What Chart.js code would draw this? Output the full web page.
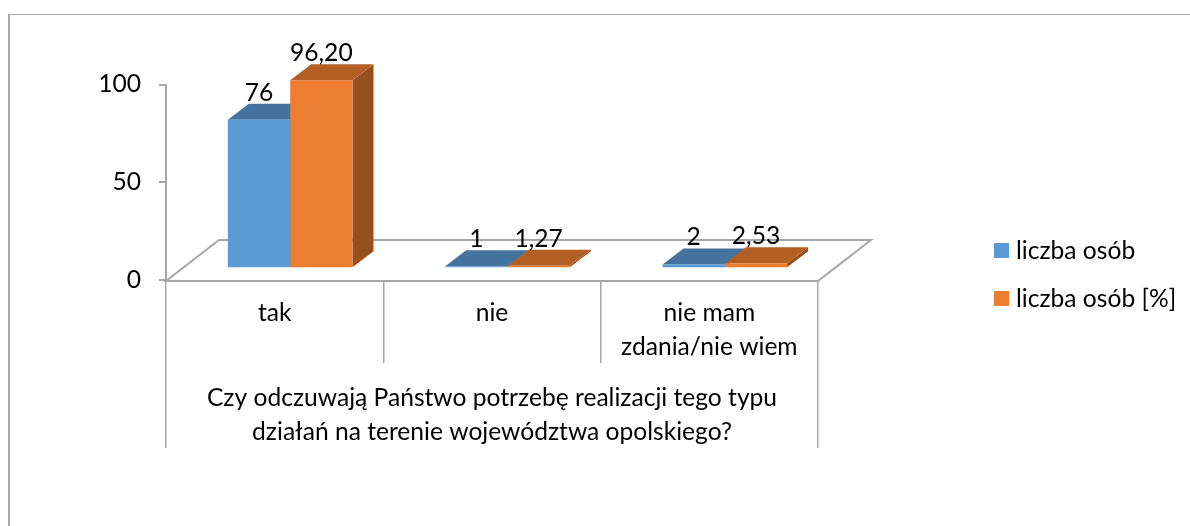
<!DOCTYPE html>
<html>
<head>
<meta charset="utf-8">
<style>
html, body { margin: 0; padding: 0; background: #fff; }
canvas { display: block; }
</style>
<script src="https://cdn.jsdelivr.net/npm/chart.js@4/dist/chart.umd.js"></script>
</head>
<body>
<canvas id="chart" width="1190" height="526"></canvas>
<script>
const categories = ['tak', 'nie', ['nie mam', 'zdania/nie wiem']]
const groupTitle = ['Czy odczuwają Państwo potrzebę realizacji tego typu', 'działań na terenie województwa opolskiego?']
const countValues = [76, 1, 2]
const percentValues = [96.20, 1.27, 2.53]
const countLabels = ['76', '1', '2']
const percentLabels = ['96,20', '1,27', '2,53']
const yTicks = [0, 50, 100]

const FONT = 'Lato'
const FONT_SIZE = 24.6
const AXIS = '#a6a6a6'

// perspective offsets of the fake 3D view
const depth = { x: 21, y: -16 }
const floor = { x: 53, y: -41 }
const shift = { x: 15.5, y: -11.7 }
const faces = [
    { top: '#44739f', side: '#3a6489' },
    { top: '#b35e24', side: '#95501e' }
]
const valueLabels = [countLabels, percentLabels]

function poly(ctx, pts, fill) {
    ctx.beginPath()
    pts.forEach((p, i) => i ? ctx.lineTo(p[0], p[1]) : ctx.moveTo(p[0], p[1]))
    ctx.closePath()
    ctx.fillStyle = fill
    ctx.fill()
}

const view3d = {
    id: 'view3d',
    beforeDatasetsDraw(chart) {
        const ctx = chart.ctx
        const x = chart.scales.x
        const y0 = chart.scales.y.getPixelForValue(0) + 1
        ctx.save()
        ctx.strokeStyle = AXIS
        ctx.lineWidth = 2
        ctx.beginPath()
        ctx.moveTo(x.left, y0)
        ctx.lineTo(x.left + floor.x, y0 + floor.y)
        ctx.lineTo(x.right + floor.x, y0 + floor.y)
        ctx.lineTo(x.right, y0)
        ctx.closePath()
        ctx.stroke()

        // side and top faces go first so the library's front faces sit on them
        ctx.translate(shift.x, shift.y)
        chart.data.datasets.forEach((ds, i) => {
            const f = faces[i]
            chart.getDatasetMeta(i).data.forEach(bar => {
                const l = bar.x - bar.width / 2
                const r = bar.x + bar.width / 2
                poly(ctx, [[r, bar.y], [r + depth.x, bar.y + depth.y], [r + depth.x, bar.base + depth.y], [r, bar.base]], f.side)
                poly(ctx, [[l, bar.y], [l + depth.x, bar.y + depth.y], [r + depth.x, bar.y + depth.y], [r, bar.y]], f.top)
            })
        })
        ctx.restore()
    },
    beforeDatasetDraw(chart) {
        chart.ctx.save()
        chart.ctx.translate(shift.x, shift.y)
    },
    afterDatasetDraw(chart) {
        chart.ctx.restore()
    },
    afterDatasetsDraw(chart) {
        const ctx = chart.ctx
        ctx.save()
        ctx.font = FONT_SIZE + 'px ' + FONT
        ctx.fillStyle = '#000'
        ctx.textAlign = 'center'
        ctx.textBaseline = 'middle'
        chart.data.datasets.forEach((ds, i) => {
            chart.getDatasetMeta(i).data.forEach((bar, j) => {
                ctx.fillText(valueLabels[i][j], bar.x + shift.x, bar.y + shift.y - 27)
            })
        })
        ctx.restore()
    },
    afterDraw(chart) {
        const ctx = chart.ctx
        ctx.save()

        // legend: the built-in one can't get the swatch-text gap this tight
        ctx.font = FONT_SIZE + 'px ' + FONT
        ctx.textAlign = 'left'
        ctx.textBaseline = 'middle'
        chart.data.datasets.forEach((ds, i) => {
            const y = 250.5 + i * 48
            ctx.fillStyle = ds.backgroundColor
            ctx.fillRect(994, y - 7.5, 15, 15)
            ctx.fillStyle = '#000'
            ctx.fillText(ds.label, 1016, y + 1)
        })

        // outer chart frame, only top and left are in the picture
        ctx.strokeStyle = AXIS
        ctx.lineWidth = 1
        ctx.beginPath()
        ctx.moveTo(1190, 14.5)
        ctx.lineTo(9, 14.5)
        ctx.stroke()
        ctx.lineWidth = 2
        ctx.beginPath()
        ctx.moveTo(9, 14)
        ctx.lineTo(9, 526)
        ctx.stroke()
        ctx.restore()
    }
}

new Chart(document.getElementById('chart'), {
    type: 'bar',
    data: {
        labels: categories,
        datasets: [
            {
                label: 'liczba osób',
                data: countValues,
                backgroundColor: '#5b9bd5',
                clip: false,
                barPercentage: 1,
                categoryPercentage: 0.5735
            },
            {
                label: 'liczba osób [%]',
                data: percentValues,
                backgroundColor: '#ed7d31',
                clip: false,
                barPercentage: 1,
                categoryPercentage: 0.5735
            }
        ]
    },
    plugins: [view3d],
    options: {
        responsive: false,
        animation: false,
        layout: {
            padding: { left: 0, right: 372, top: 84.5, bottom: 78 }
        },
        plugins: {
            title: { display: false },
            tooltip: { enabled: false },
            legend: { display: false }
        },
        scales: {
            y: {
                min: 0,
                max: 100,
                afterFit: s => { s.width = 166 },
                afterBuildTicks: s => { s.ticks = yTicks.map(value => ({ value })) },
                border: { color: AXIS, width: 2 },
                grid: { drawOnChartArea: false, color: AXIS, lineWidth: 2, tickLength: 7 },
                ticks: { padding: 18, color: '#000', font: { family: FONT, size: FONT_SIZE } }
            },
            x: {
                offset: true,
                afterFit: s => { s.height = 83 },
                border: { display: false },
                grid: { offset: true, drawOnChartArea: false, color: AXIS, lineWidth: 1.5, tickLength: 83 },
                ticks: {
                    padding: -67,
                    autoSkip: false,
                    maxRotation: 0,
                    minRotation: 0,
                    color: '#000',
                    font: { family: FONT, size: FONT_SIZE, lineHeight: 1.38 }
                }
            },
            x2: {
                type: 'category',
                position: 'bottom',
                labels: [groupTitle],
                offset: true,
                afterFit: s => { s.height = 85 },
                border: { display: false },
                grid: { offset: true, drawOnChartArea: false, color: AXIS, lineWidth: 1.5, tickLength: 85 },
                ticks: {
                    padding: -67,
                    autoSkip: false,
                    maxRotation: 0,
                    minRotation: 0,
                    color: '#000',
                    font: { family: FONT, size: FONT_SIZE, lineHeight: 1.38 }
                }
            }
        }
    }
})
</script>
</body>
</html>
